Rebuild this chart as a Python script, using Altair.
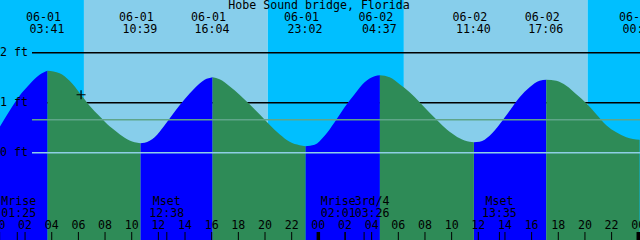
import altair as alt
import pandas as pd

# ---------------- data ----------------
station = "Hobe Sound bridge, Florida"

event_dates = ["06-01", "06-01", "06-01", "06-01", "06-02", "06-02", "06-02", "06-03"]
event_times = ["03:41", "10:39", "16:04", "23:02", "04:37", "11:40", "17:06", "00:10"]
event_ft = [1.64, 0.19, 1.51, 0.13, 1.55, 0.21, 1.46, 0.24]

# tide height samples (hours since 06-01 00:00, feet)
sample_hours = [0.09, 0.84, 1.59, 2.34, 3.09, 4.59, 5.34, 6.17, 6.84, 7.59,
                8.34, 8.72, 9.47, 10.22, 10.97, 11.72, 12.47, 13.22, 13.97, 14.72,
                15.47, 16.59, 17.34, 18.09, 18.84, 19.59, 20.34, 21.09, 21.85, 22.60,
                23.72, 24.47, 25.22, 25.97, 26.72, 27.47, 28.22, 29.35, 30.10, 30.85,
                31.60, 32.35, 33.10, 33.85, 34.60, 35.35, 36.10, 36.85, 37.60, 38.35,
                39.10, 39.85, 40.60, 41.85, 42.60, 43.35, 44.10, 44.85, 45.60, 46.35,
                47.10, 48.10]
sample_ft = [0.51, 0.84, 1.14, 1.37, 1.56, 1.59, 1.44, 1.17, 0.94, 0.73,
             0.53, 0.45, 0.30, 0.21, 0.20, 0.31, 0.55, 0.82, 1.07, 1.29,
             1.46, 1.47, 1.33, 1.16, 0.97, 0.77, 0.56, 0.37, 0.22, 0.15,
             0.16, 0.34, 0.61, 0.91, 1.17, 1.41, 1.53, 1.51, 1.37, 1.21,
             1.01, 0.80, 0.60, 0.42, 0.29, 0.22, 0.22, 0.34, 0.57, 0.84,
             1.11, 1.31, 1.44, 1.44, 1.34, 1.17, 0.99, 0.77, 0.55, 0.41,
             0.31, 0.26]

sun_dates = ["06-01", "06-01", "06-02", "06-02"]
sun_times = ["06:25", "20:11", "06:25", "20:11"]

moon_names = ["Mrise", "Mset", "Mrise", "3rd/4", "Mset"]
moon_dates = ["06-01", "06-01", "06-02", "06-02", "06-02"]
moon_times = ["01:25", "12:38", "02:01", "03:26", "13:35"]

now_date, now_time, now_ft = "06-01", "06:12", 1.16

depth_ft = [1, 2]
datum_ft = [0]
msl_ft = [0.66]
level_labels_ft = [2, 1, 0]
hour_ticks = list(range(0, 49, 2))

# ---------------- helpers ----------------
def to_h(d, t):
    day = int(d[3:])
    hh, mm = t.split(":")
    return (day - 1) * 24 + int(hh) + int(mm) / 60.0

H0, H1 = 0.12, 48.13
xs = alt.Scale(domain=[H0, H1], nice=False, zero=False)
ys = alt.Scale(domain=[-1.745, 3.055], nice=False, zero=False)
FONT = "DejaVu Sans Mono"
FS = 11.6
NIGHT, DAY, FLOOD, EBB = "#00BFFF", "#87CEEB", "#0000FF", "#2E8B57"

# tide table split into rising / falling segments
ev_h = [to_h(d, t) for d, t in zip(event_dates, event_times)]
pts = sorted([(h, f, False) for h, f in zip(sample_hours, sample_ft)] +
             [(h, f, True) for h, f in zip(ev_h, event_ft) if h < 48.1])
rows, cur = [], []
for h, f, ext in pts:
    cur.append((h, f))
    if ext:
        rows.append(cur)
        cur = [(h, f)]
rows.append(cur)
recs = []
for i, s in enumerate(rows):
    phase = "rising" if s[-1][1] > s[0][1] else "falling"
    for h, f in s:
        recs.append({"h": h, "ft": f, "seg": i, "phase": phase})
tide_df = pd.DataFrame(recs)

sun_h = [to_h(d, t) for d, t in zip(sun_dates, sun_times)]
bounds = [-1.0] + sun_h + [50.0]
bands = pd.DataFrame({
    "h0": bounds[:-1], "h1": bounds[1:],
    "kind": ["night", "day", "night", "day", "night"],
})

ev_df = pd.DataFrame({"h": ev_h, "date": event_dates, "time": event_times})
moon_df = pd.DataFrame({"h": [to_h(d, t) for d, t in zip(moon_dates, moon_times)],
                        "name": moon_names, "time": moon_times,
                        "i": list(range(len(moon_names)))})
ticks_df = pd.DataFrame({"h": hour_ticks, "lab": [f"{h % 24:02d}" for h in hour_ticks],
                         "mid": [h % 24 == 0 for h in hour_ticks]})
lev_df = pd.DataFrame({"ft": level_labels_ft, "lab": [f"{v} ft" for v in level_labels_ft]})
now_df = pd.DataFrame({"h": [to_h(now_date, now_time)], "ft": [now_ft]})

# ---------------- layers ----------------
def band(kind, col):
    return alt.Chart(bands).transform_filter(f"datum.kind == '{kind}'").mark_rect(
        clip=True, color=col).encode(
        x=alt.X("h0:Q", scale=xs, axis=None), x2="h1:Q",
        y=alt.value(0), y2=alt.value(240))

def tide_area(phase, col):
    return alt.Chart(tide_df).transform_filter(f"datum.phase == '{phase}'").mark_area(
        interpolate="monotone", clip=True, color=col).encode(
        x=alt.X("h:Q", scale=xs, axis=None),
        y=alt.Y("ft:Q", scale=ys, axis=None, stack=None),
        y2=alt.value(240),
        detail="seg:N",
    )

depth = alt.Chart(pd.DataFrame({"ft": depth_ft})).mark_rule(color="black", strokeWidth=1.3).encode(
    y=alt.Y("ft:Q", scale=ys, axis=None), x=alt.value(32), x2=alt.value(640))

datum = alt.Chart(pd.DataFrame({"ft": datum_ft})).mark_rule(color="#8ECFE6", strokeWidth=1.3).encode(
    y=alt.Y("ft:Q", scale=ys, axis=None), x=alt.value(32), x2=alt.value(640))
msl = alt.Chart(pd.DataFrame({"ft": msl_ft})).mark_rule(color="#5FA58A", strokeWidth=1.3).encode(
    y=alt.Y("ft:Q", scale=ys, axis=None), x=alt.value(32), x2=alt.value(640))

levels = alt.Chart(lev_df).mark_text(font=FONT, fontSize=FS, align="left", baseline="middle",
                                     color="black").encode(
    y=alt.Y("ft:Q", scale=ys, axis=None), x=alt.value(0), text="lab:N")

title = alt.Chart(pd.DataFrame({"t": [station]})).mark_text(
    font=FONT, fontSize=FS, align="center", baseline="middle", color="black").encode(
    x=alt.value(319), y=alt.value(6), text="t:N")

ev_date = alt.Chart(ev_df).mark_text(font=FONT, fontSize=FS, align="center", baseline="middle",
                                     color="black", dx=-4).encode(
    x=alt.X("h:Q", scale=xs, axis=None), y=alt.value(17.5), text="date:N")
ev_time = alt.Chart(ev_df).mark_text(font=FONT, fontSize=FS, align="center", baseline="middle",
                                     color="black", dx=-0.5).encode(
    x=alt.X("h:Q", scale=xs, axis=None), y=alt.value(29.5), text="time:N")

hour_lab = alt.Chart(ticks_df).mark_text(font=FONT, fontSize=FS, align="center", baseline="middle",
                                         color="black").encode(
    x=alt.X("h:Q", scale=xs, axis=None), y=alt.value(226), text="lab:N")
hour_tk = alt.Chart(ticks_df).mark_rule(color="black", strokeWidth=1).encode(
    x=alt.X("h:Q", scale=xs, axis=None), y=alt.value(232), y2=alt.value(240))
mid_tk = alt.Chart(ticks_df).transform_filter("datum.mid").mark_rule(color="black", strokeWidth=3.5).encode(
    x=alt.X("h:Q", scale=xs, axis=None), y=alt.value(232), y2=alt.value(240))
moon_tk = alt.Chart(moon_df).mark_rule(color="black", strokeWidth=1).encode(
    x=alt.X("h:Q", scale=xs, axis=None), y=alt.value(232), y2=alt.value(240))

def moon_text(cond, dx):
    base = alt.Chart(moon_df).transform_filter(cond)
    a = base.mark_text(font=FONT, fontSize=FS, align="center", baseline="middle",
                       color="black", dx=dx).encode(
        x=alt.X("h:Q", scale=xs, axis=None), y=alt.value(202), text="name:N")
    b = base.mark_text(font=FONT, fontSize=FS, align="center", baseline="middle",
                       color="black", dx=dx).encode(
        x=alt.X("h:Q", scale=xs, axis=None), y=alt.value(214), text="time:N")
    return [a, b]

moon_layers = (moon_text("datum.i == 0", 1.5) + moon_text("datum.i == 1 || datum.i == 4", 0)
               + moon_text("datum.i == 2", -7) + moon_text("datum.i == 3", 8))

now_mark = alt.Chart(now_df).mark_point(shape="M-1,0L1,0M0,-1L0,1", size=81, filled=False,
                                        stroke="black", strokeWidth=1.2, opacity=1).encode(
    x=alt.X("h:Q", scale=xs, axis=None), y=alt.Y("ft:Q", scale=ys, axis=None))

chart = alt.layer(band("night", NIGHT), band("day", DAY), depth,
                  tide_area("rising", FLOOD), tide_area("falling", EBB),
                  datum, msl, levels, title, ev_date, ev_time,
                  hour_lab, hour_tk, mid_tk, moon_tk, *moon_layers, now_mark).properties(
    width=640, height=240, padding=0,
    autosize=alt.AutoSizeParams(type="none"),
).configure_view(stroke=None)

chart.save("out.html", embed_options={"renderer": "svg", "actions": False})
